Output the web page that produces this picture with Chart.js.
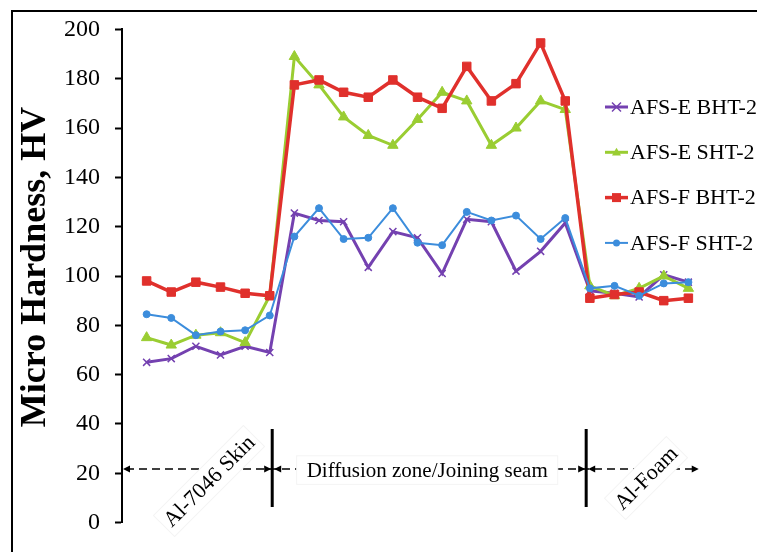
<!DOCTYPE html>
<html>
<head>
<meta charset="utf-8">
<script src="https://cdn.jsdelivr.net/npm/chart.js@4.4.1/dist/chart.umd.min.js"></script>
<style>
html,body{margin:0;padding:0;background:#fff;}
#wrap{position:relative;width:757px;height:552px;}
</style>
</head>
<body>
<div id="wrap"><canvas id="hvChart" width="757" height="552"></canvas></div>
<script>
// measurement points across the joint, left to right
const points = [1,2,3,4,5,6,7,8,9,10,11,12,13,14,15,16,17,18,19,20,21,22,23];
const seriesNames = ['AFS-E BHT-2','AFS-E SHT-2','AFS-F BHT-2','AFS-F SHT-2'];
const eBht = [65,66.5,71.5,68,71.5,69,125.5,122.5,122,103.5,118,115.5,101,123,122,102,110,121.5,94,93,91.5,100.5,97.5];
const eSht = [75,72,76,77,73,92,189,177.5,164.5,157,153,163.5,174.5,171,153,160,171,167.5,96,92,95,100,95];
const fBht = [98,93.5,97.5,95.5,93,92,177.5,179.5,174.5,172.5,179.5,172.5,168,185,171,178,194.5,171,91,92.5,93.5,90,91];
const fSht = [84.5,83,76,77.5,78,84,116,127.5,115,115.5,127.5,113.5,112.5,126,122.5,124.5,115,123.5,95,96,92,97,97.5];
const yTicks = [0,20,40,60,80,100,120,140,160,180,200];
const zoneNames = ['Al-7046 Skin','Diffusion zone/Joining seam','Al-Foam'];
const yTitle = 'Micro Hardness, HV';

const serif = "'Liberation Serif','Times New Roman',serif";
const styles = [
    {color:'#7441b0', marker:'crossRot', r:5, w:3},
    {color:'#9acd32', marker:'triangle', r:6, w:3},
    {color:'#e0302c', marker:'rect', r:6, w:3.5},
    {color:'#3c8ddc', marker:'circle', r:3.5, w:2}
];
const allSeries = [eBht, eSht, fBht, fSht];

function drawMarker(ctx, kind, x, y, r, color){
    ctx.save();
    ctx.fillStyle = color; ctx.strokeStyle = color; ctx.lineWidth = 1.5;
    ctx.beginPath();
    if(kind=='circle'){ctx.arc(x,y,r,0,Math.PI*2);ctx.fill();}
    else if(kind=='rect'){ctx.fillRect(x-r,y-r,2*r,2*r);}
    else if(kind=='triangle'){ctx.moveTo(x,y-r);ctx.lineTo(x+r,y+r*0.7);ctx.lineTo(x-r,y+r*0.7);ctx.closePath();ctx.fill();}
    else {ctx.moveTo(x-r,y-r);ctx.lineTo(x+r,y+r);ctx.moveTo(x+r,y-r);ctx.lineTo(x-r,y+r);ctx.stroke();}
    ctx.restore();
}

function arrowHead(ctx, x, y, dir){
    ctx.beginPath();
    ctx.moveTo(x,y);ctx.lineTo(x-dir*7,y-3.5);ctx.lineTo(x-dir*7,y+3.5);ctx.closePath();ctx.fill();
}

function labelBox(ctx, text, cx, cy, angle, size, pad){
    ctx.save();
    ctx.translate(cx,cy);ctx.rotate(angle);
    ctx.font = size+'px '+serif;
    let w = ctx.measureText(text).width;
    ctx.fillStyle='#fff';ctx.fillRect(-w/2-pad,-size*0.68,w+2*pad,size*1.36);
    ctx.strokeStyle='#f4f4f4';ctx.lineWidth=1;ctx.strokeRect(-w/2-pad,-size*0.68,w+2*pad,size*1.36);
    ctx.fillStyle='#000';ctx.textAlign='center';ctx.textBaseline='middle';
    ctx.fillText(text,0,1);
    ctx.restore();
}

const extras = {
    id:'extras',
    afterDraw(chart){
        const ctx = chart.ctx, xs = chart.scales.x, ys = chart.scales.y;
        ctx.save();
        // outer frame
        ctx.strokeStyle='#000';ctx.lineWidth=2;
        ctx.beginPath();ctx.moveTo(12,560);ctx.lineTo(12,11);ctx.lineTo(770,11);ctx.stroke();

        // y title
        ctx.save();
        ctx.translate(36,267);ctx.rotate(-Math.PI/2);
        ctx.font='bold 36px '+serif;ctx.fillStyle='#000';ctx.textAlign='center';ctx.textBaseline='middle';
        ctx.fillText(yTitle,0,0);
        ctx.restore();

        // zone markers
        const ay = ys.getPixelForValue(21.7);
        const b1 = xs.getPixelForValue(6.1), b2 = xs.getPixelForValue(18.85);
        const xEnd = xs.getPixelForValue(23.3);
        ctx.strokeStyle='#000';ctx.fillStyle='#000';ctx.lineWidth=1.5;
        ctx.setLineDash([8,5]);
        ctx.beginPath();ctx.moveTo(xs.left+4,ay);ctx.lineTo(xEnd,ay);ctx.stroke();
        ctx.setLineDash([]);
        arrowHead(ctx,xs.left+1,ay,-1);
        arrowHead(ctx,b1-1,ay,1);arrowHead(ctx,b1+2,ay,-1);
        arrowHead(ctx,b2-1,ay,1);arrowHead(ctx,b2+2,ay,-1);
        arrowHead(ctx,xEnd+3,ay,1);
        ctx.lineWidth=3;
        ctx.beginPath();
        ctx.moveTo(b1,ay-40);ctx.lineTo(b1,ay+38);
        ctx.moveTo(b2,ay-40);ctx.lineTo(b2,ay+38);
        ctx.stroke();

        labelBox(ctx,zoneNames[0],209,481,-Math.PI/4,22,4);
        labelBox(ctx,zoneNames[1],(b1+b2)/2-2,ay+1,0,21,10);
        labelBox(ctx,zoneNames[2],646,478,-Math.PI/4,22,4);

        // legend
        ctx.font='22px '+serif;ctx.textBaseline='middle';ctx.textAlign='left';
        seriesNames.forEach((n,i)=>{
            const s = styles[i], ly = 107 + i*45.3;
            ctx.strokeStyle=s.color;ctx.lineWidth=s.w;
            ctx.beginPath();ctx.moveTo(605,ly);ctx.lineTo(628,ly);ctx.stroke();
            drawMarker(ctx,s.marker,616.5,ly,Math.min(s.r,4.5),s.color);
            ctx.fillStyle='#000';
            ctx.fillText(n,630,ly+1);
        });
        ctx.restore();
    }
};

const datasets = allSeries.map((vals,i)=>({
    label: seriesNames[i],
    data: vals.map((v,k)=>({x:points[k],y:v})),
    borderColor: styles[i].color,
    backgroundColor: styles[i].color,
    borderWidth: styles[i].w,
    pointStyle: styles[i].marker,
    pointRadius: styles[i].r,
    pointBorderWidth: styles[i].marker=='crossRot'?1.5:1,
    pointBackgroundColor: styles[i].color,
    pointBorderColor: styles[i].color,
    tension: 0,
    order: 4-i
}));

new Chart(document.getElementById('hvChart'),{
    type:'line',
    data:{datasets:datasets},
    options:{
        responsive:false,
        animation:false,
        layout:{padding:{left:12,top:26,right:44,bottom:20}},
        plugins:{legend:{display:false},tooltip:{enabled:false}},
        scales:{
            x:{type:'linear',min:0,max:24,display:false},
            y:{
                min:0,max:200,
                afterFit(scale){scale.width=110;},
                afterBuildTicks(scale){scale.ticks=yTicks.map(v=>({value:v}));},
                grid:{drawOnChartArea:false,drawTicks:true,tickLength:7,tickWidth:2,tickColor:'#000'},
                border:{display:true,color:'#000',width:2},
                ticks:{color:'#000',padding:15,font:{family:serif,size:24}}
            }
        }
    },
    plugins:[extras]
});
</script>
</body>
</html>
